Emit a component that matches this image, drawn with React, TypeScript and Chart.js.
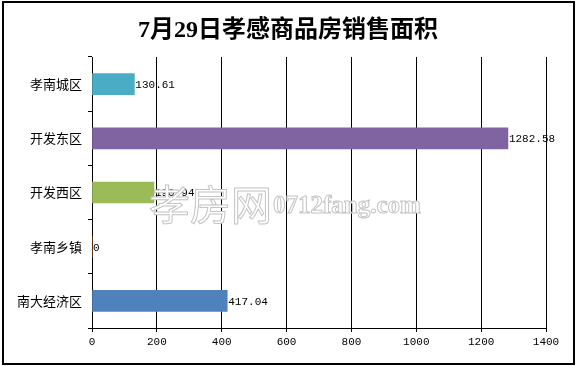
import { useEffect, useRef } from "react";
import { Chart, registerables } from "chart.js";

Chart.register(...registerables);

const TITLE = "7月29日孝感商品房销售面积";
const categories = ["孝南城区", "开发东区", "开发西区", "孝南乡镇", "南大经济区"];
const areaValues = [130.61, 1282.58, 190.94, 0, 417.04];
const valueLabels = ["130.61", "1282.58", "190.94", "0", "417.04"];
const barColors = ["#4BACC6", "#8064A2", "#9BBB59", "#F79646", "#4F81BD"];
const xMin = 0;
const xMax = 1400;
const xStep = 200;
const WATERMARK_CN = "孝房网";
const WATERMARK_EN = "0712fang.com";

const W = 576;
const H = 366;

const framePlugin = {
  id: "frame",
  beforeDraw(chart: any) {
    const ctx = chart.ctx;
    ctx.save();
    ctx.fillStyle = "#ffffff";
    ctx.fillRect(0, 0, W, H);
    ctx.strokeStyle = "#000000";
    ctx.lineWidth = 2;
    ctx.strokeRect(3, 2, 571, 362);
    ctx.fillStyle = "#000000";
    ctx.font = "bold 24px 'Liberation Serif', 'Noto Sans CJK SC'";
    ctx.textAlign = "center";
    ctx.textBaseline = "middle";
    ctx.fillText(TITLE, 288, 31);
    ctx.restore();
  },
  afterDatasetsDraw(chart: any) {
    const ctx = chart.ctx;
    const meta = chart.getDatasetMeta(0);
    ctx.save();
    ctx.fillStyle = "#000000";
    ctx.font = "11px 'Liberation Mono', 'DejaVu Sans Mono', monospace";
    ctx.textAlign = "left";
    ctx.textBaseline = "middle";
    meta.data.forEach((el: any, i: number) => {
      ctx.fillText(valueLabels[i], el.x + 1, el.y + 1);
    });
    ctx.restore();
  },
  afterDraw(chart: any) {
    const ctx = chart.ctx;
    ctx.save();
    ctx.textAlign = "left";
    ctx.textBaseline = "middle";
    ctx.lineWidth = 1;
    ctx.strokeStyle = "#c4c4c4";
    ctx.fillStyle = "#ffffff";
    ctx.font = "41px 'Noto Sans CJK SC'";
    ctx.fillText(WATERMARK_CN, 149, 204);
    ctx.strokeText(WATERMARK_CN, 149, 204);
    ctx.font = "bold 25px 'Liberation Serif'";
    ctx.fillText(WATERMARK_EN, 273, 207);
    ctx.strokeText(WATERMARK_EN, 273, 207);
    ctx.restore();
  },
};

export default function App() {
  const ref = useRef<HTMLCanvasElement | null>(null);

  useEffect(() => {
    if (!ref.current) return;
    const chart = new Chart(ref.current, {
      type: "bar",
      data: {
        labels: categories,
        datasets: [
          {
            data: areaValues,
            backgroundColor: barColors,
            borderWidth: 0,
            barThickness: 21,
          },
        ],
      },
      options: {
        indexAxis: "y",
        responsive: false,
        animation: false,
        layout: { padding: { top: 57, right: 30, left: 0, bottom: 0 } },
        plugins: {
          legend: { display: false },
          title: { display: false },
          tooltip: { enabled: false },
        },
        scales: {
          x: {
            min: xMin,
            max: xMax,
            afterFit: (s: any) => {
              s.height = 38;
            },
            ticks: {
              stepSize: xStep,
              color: "#000000",
              padding: 3,
              maxRotation: 0,
              callback: (v: any) => String(v),
              font: { family: "'Liberation Mono', 'DejaVu Sans Mono', monospace", size: 11 },
            },
            grid: {
              color: "#000000",
              lineWidth: 1,
              drawOnChartArea: true,
              drawTicks: true,
              tickLength: 4,
            },
            border: { display: true, color: "#000000", width: 1 },
          },
          y: {
            afterFit: (s: any) => {
              s.width = 92;
            },
            ticks: {
              color: "#000000",
              padding: 6,
              font: { family: "'Noto Sans CJK SC'", size: 13 },
            },
            grid: {
              color: "#000000",
              lineWidth: 1,
              offset: true,
              drawOnChartArea: false,
              drawTicks: true,
              tickLength: 4,
            },
            border: { display: true, color: "#000000", width: 1 },
          },
        },
      },
      plugins: [framePlugin],
    });
    return () => chart.destroy();
  }, []);

  return (
    <div style={{ position: "absolute", left: 0, top: 0, width: W, height: H, background: "#fff" }}>
      <canvas ref={ref} width={W} height={H} style={{ display: "block", width: W, height: H }} />
    </div>
  );
}
